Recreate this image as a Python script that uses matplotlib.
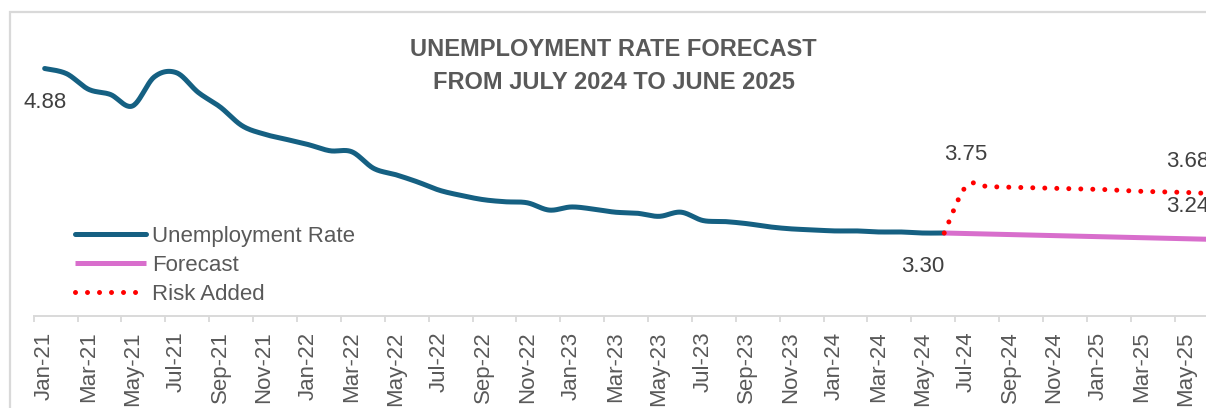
import numpy as np
import matplotlib
matplotlib.use("Agg")
import matplotlib.pyplot as plt
from matplotlib.patches import Rectangle

# ---------------- data ----------------
months = ["Jan-21", "Feb-21", "Mar-21", "Apr-21", "May-21", "Jun-21", "Jul-21", "Aug-21", "Sep-21",
          "Oct-21", "Nov-21", "Dec-21", "Jan-22", "Feb-22", "Mar-22", "Apr-22", "May-22", "Jun-22",
          "Jul-22", "Aug-22", "Sep-22", "Oct-22", "Nov-22", "Dec-22", "Jan-23", "Feb-23", "Mar-23",
          "Apr-23", "May-23", "Jun-23", "Jul-23", "Aug-23", "Sep-23", "Oct-23", "Nov-23", "Dec-23",
          "Jan-24", "Feb-24", "Mar-24", "Apr-24", "May-24", "Jun-24", "Jul-24", "Aug-24", "Sep-24",
          "Oct-24", "Nov-24", "Dec-24", "Jan-25", "Feb-25", "Mar-25", "Apr-25", "May-25", "Jun-25"]

# Jan-21 .. Jun-24
unemployment = [4.88, 4.83, 4.68, 4.63, 4.52, 4.80, 4.84, 4.65, 4.51, 4.33, 4.25, 4.20,
                4.15, 4.09, 4.08, 3.92, 3.86, 3.79, 3.71, 3.66, 3.62, 3.60, 3.59, 3.52,
                3.55, 3.53, 3.50, 3.49, 3.46, 3.50, 3.42, 3.41, 3.39, 3.36, 3.34, 3.33,
                3.32, 3.32, 3.31, 3.31, 3.30, 3.30]
# Jun-24 .. Jun-25
forecast = [3.30, 3.295, 3.29, 3.285, 3.28, 3.275, 3.27, 3.265, 3.26, 3.255, 3.25, 3.245, 3.24]
risk_added = [3.30, 3.75, 3.745, 3.74, 3.735, 3.73, 3.725, 3.72, 3.71, 3.70, 3.695, 3.69, 3.68]

title_lines = ["UNEMPLOYMENT RATE FORECAST", "FROM JULY 2024 TO JUNE 2025"]
series_names = ["Unemployment Rate", "Forecast", "Risk Added"]

# ---------------- helpers ----------------
def smooth(x, y, n=24):
    pts = np.column_stack([np.asarray(x, float), np.asarray(y, float)])
    out = []
    m = len(pts)
    for i in range(m - 1):
        p0 = pts[max(i - 1, 0)]
        p1 = pts[i]
        p2 = pts[i + 1]
        p3 = pts[min(i + 2, m - 1)]
        c1 = p1 + (p2 - p0) / 6.0
        c2 = p2 - (p3 - p1) / 6.0
        t = np.linspace(0, 1, n, endpoint=(i == m - 2))[:, None]
        b = (1 - t) ** 3 * p1 + 3 * (1 - t) ** 2 * t * c1 + 3 * (1 - t) * t ** 2 * c2 + t ** 3 * p2
        out.append(b)
    return np.vstack(out)

W, H = 1206, 408
fig = plt.figure(figsize=(W / 100, H / 100), dpi=100)
fig.patch.set_facecolor("white")

# chart border (left & top visible, rest cropped)
fig.patches.append(Rectangle((10 / W, -0.2), 1.5, (H - 12) / H + 0.2, transform=fig.transFigure,
                             fill=False, edgecolor="#d9d9d9", lw=1.6, zorder=0))

left_px, right_px = 33.7, 1218.5
bot_px, top_px = 316.3, 56.0
ax = fig.add_axes([left_px / W, (H - bot_px) / H, (right_px - left_px) / W, (bot_px - top_px) / H])
ax.set_facecolor("none")

x_act = np.arange(len(unemployment))
start_f = len(unemployment) - 1
x_fc = np.arange(start_f, start_f + len(forecast))

TEAL = "#156082"
PINK = "#D86ECC"
RED = "#FF0000"
LW = 3.6

s = smooth(x_act, unemployment)
ax.plot(s[:, 0], s[:, 1], color=TEAL, lw=LW, solid_capstyle="round", label=series_names[0], zorder=3)
s = smooth(x_fc, forecast)
ax.plot(s[:, 0], s[:, 1], color=PINK, lw=LW, solid_capstyle="butt", label=series_names[1], zorder=3)
s = smooth(x_fc, risk_added)
ax.plot(s[:, 0], s[:, 1], color=RED, lw=LW, linestyle=(0, (0.001, 2.4)), dash_capstyle="round",
        label=series_names[2], zorder=4)

ax.set_xlim(-0.5, len(months) - 0.5)
ax.set_ylim(2.5, 5.0)

# axes styling
for sp in ["left", "right", "top"]:
    ax.spines[sp].set_visible(False)
ax.spines["bottom"].set_color("#d9d9d9")
ax.spines["bottom"].set_linewidth(1.4)
ax.set_yticks([])

ax.set_xticks(np.arange(0, len(months), 2))
ax.set_xticklabels(months[::2], rotation=90, fontsize=16, color="#595959",
                   family=["Liberation Sans", "DejaVu Sans"])
ax.set_xticks(np.arange(-0.5, len(months), 2), minor=True)
ax.tick_params(axis="x", which="major", length=0, pad=11)
ax.tick_params(axis="x", which="minor", length=4.5, width=1.3, color="#d9d9d9", direction="out")

# data labels
lab_kw = dict(textcoords="offset pixels", ha="center", va="center", fontsize=16, color="#404040",
              family=["Liberation Sans", "DejaVu Sans"], annotation_clip=False)
ax.annotate(f"{unemployment[0]:.2f}", xy=(0, unemployment[0]), xytext=(0, -34), **lab_kw)
ax.annotate(f"{unemployment[-1]:.2f}", xy=(start_f, unemployment[-1]), xytext=(-22, -33), **lab_kw)
ax.annotate(f"{risk_added[1]:.2f}", xy=(start_f + 1, risk_added[1]), xytext=(0, 32), **lab_kw)
ax.annotate(f"{risk_added[-1]:.2f}", xy=(x_fc[-1], risk_added[-1]), xytext=(-19.5, 31.5), **lab_kw)
ax.annotate(f"{forecast[-1]:.2f}", xy=(x_fc[-1], forecast[-1]), xytext=(-19.5, 32.5), **lab_kw)

# legend
leg = ax.legend(loc="upper left", bbox_to_anchor=(75 / W, (H - 226) / H), bbox_transform=fig.transFigure,
                frameon=False, borderpad=0, borderaxespad=0, handlelength=3.2, handletextpad=0.27,
                labelspacing=0.36, prop={"family": ["Liberation Sans", "DejaVu Sans"], "size": 16},
                labelcolor="#595959")

# title
tkw = dict(ha="center", va="center", fontsize=17, fontweight="bold", color="#595959",
           family=["Liberation Sans", "DejaVu Sans"])
fig.text(613.5 / W, 1 - 49.3 / H, title_lines[0], **tkw)
fig.text(613.5 / W, 1 - 82.5 / H, title_lines[1], **tkw)

fig.savefig("out.png", dpi=100, facecolor="white")
